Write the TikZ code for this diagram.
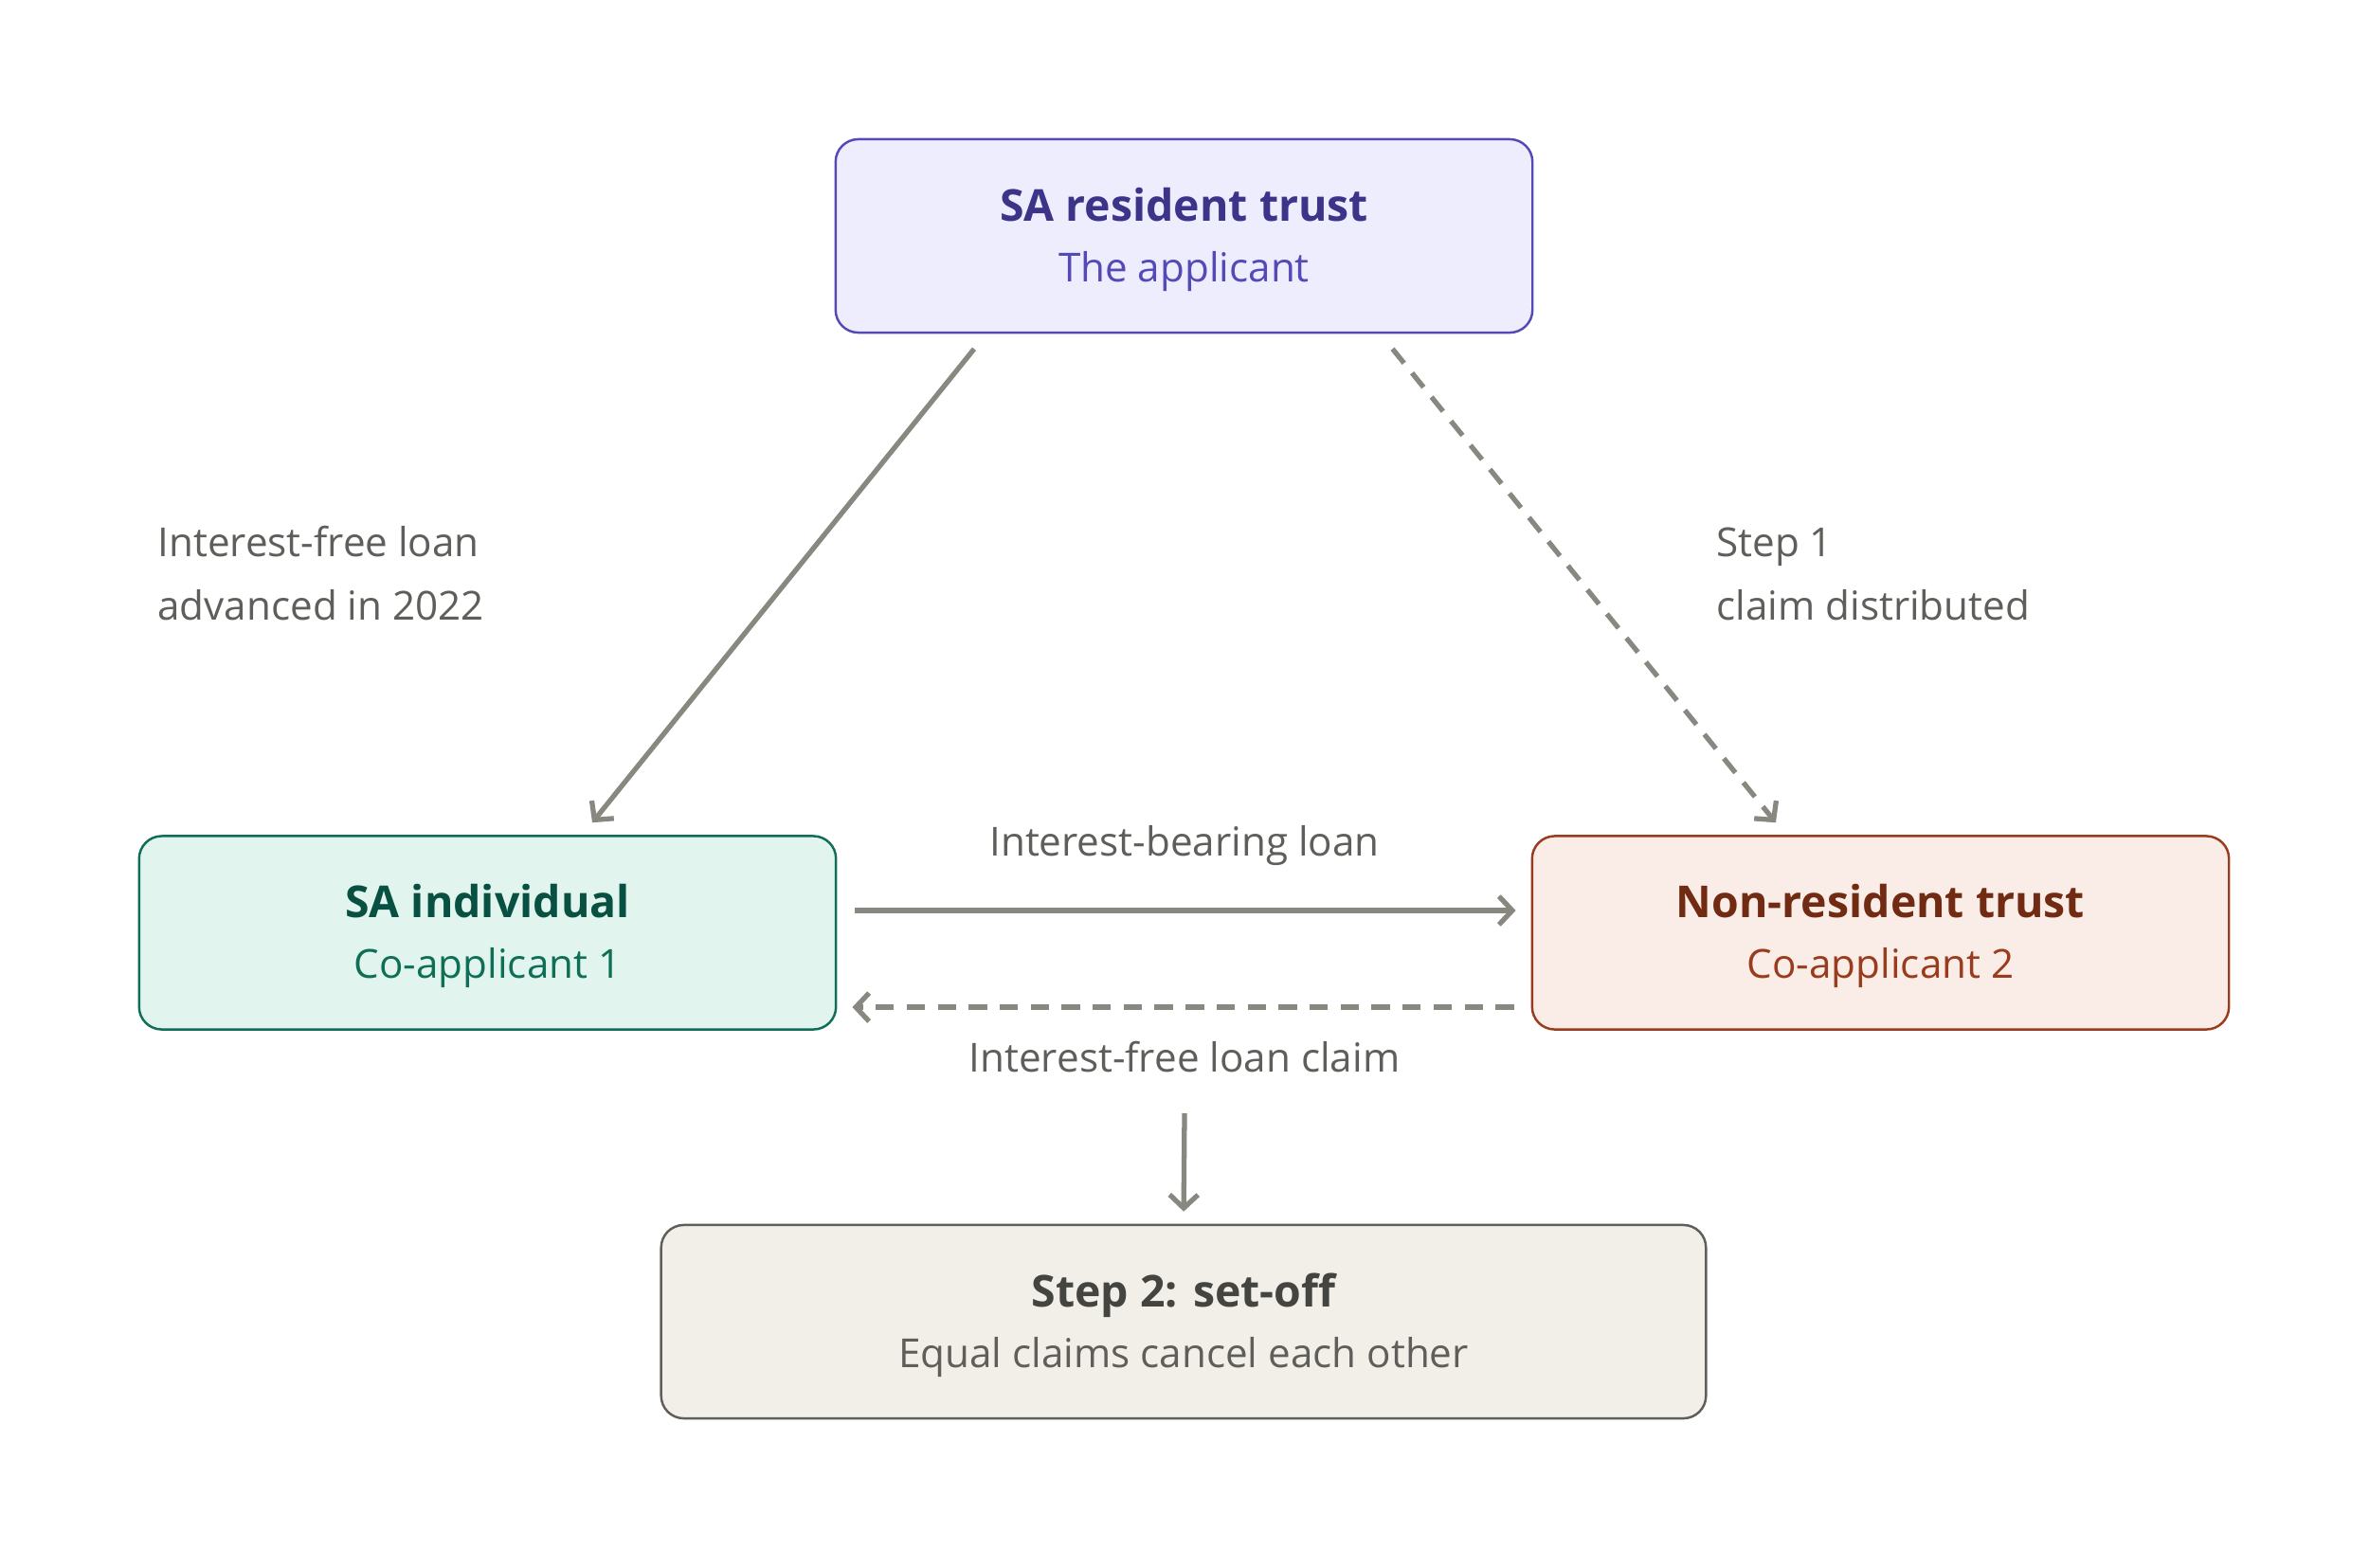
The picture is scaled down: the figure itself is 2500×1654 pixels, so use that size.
\documentclass[tikz,border=0pt]{standalone}
\usepackage{fontspec}
\setmainfont{Open Sans}
\usetikzlibrary{arrows.meta}
\definecolor{pfill}{HTML}{EEEDFE}\definecolor{pline}{HTML}{534AB7}\definecolor{ptitle}{HTML}{3C3489}
\definecolor{gfill}{HTML}{E1F5EE}\definecolor{gline}{HTML}{0F6E56}\definecolor{gtitle}{HTML}{085041}
\definecolor{rfill}{HTML}{FAECE7}\definecolor{rline}{HTML}{993C1D}\definecolor{rtitle}{HTML}{712B13}
\definecolor{nfill}{HTML}{F1EFE8}\definecolor{nline}{HTML}{5F5E5A}\definecolor{ntitle}{HTML}{444441}
\definecolor{arrowc}{HTML}{888780}\definecolor{labelc}{HTML}{5F5E5A}
\begin{document}
\begin{tikzpicture}[x=0.01cm,y=-0.01cm,
  box/.style={draw, line width=0.7pt, rounded corners=6.8pt, inner sep=0pt},
  wide/.style={minimum width=7.35cm, minimum height=2.04cm},
  widest/.style={minimum width=11.02cm, minimum height=2.04cm},
  ttl/.style={anchor=mid, font=\fontsize{13.2}{16}\selectfont\bfseries},
  sub/.style={anchor=mid, font=\fontsize{12}{14}\selectfont},
  lbl/.style={font=\fontsize{12}{14}\selectfont, text=labelc},
  conn/.style={draw=arrowc, line width=1.5pt, -{Straight Barb[length=4pt,width=8.5pt,line width=1.5pt]}},
  dashconn/.style={conn, dash pattern=on 5.5pt off 3.8pt}
]
\useasboundingbox (0,0) rectangle (2500,1654);
\fill[white] (0,0) rectangle (2500,1654);

% boxes
\node[box, wide, draw=pline, fill=pfill] (top) at (1249.5,249) {};
\node[box, wide, draw=gline, fill=gfill] (left) at (514.5,984.5) {};
\node[box, wide, draw=rline, fill=rfill] (right) at (1984.5,984.5) {};
\node[box, widest, draw=nline, fill=nfill] (bottom) at (1249,1395) {};

% box texts
\node[ttl, text=ptitle] (topT) at (1249.5,224) {SA resident trust};
\node[sub, text=pline] (topS) at (1249.5,288) {The applicant};
\node[ttl, text=gtitle] (leftT) at (514.5,959) {SA individual};
\node[sub, text=gline] (leftS) at (514.5,1023) {Co-applicant 1};
\node[ttl, text=rtitle] (rightT) at (1984.5,959) {Non-resident trust};
\node[sub, text=rline] (rightS) at (1984.5,1023) {Co-applicant 2};
\node[ttl, text=ntitle] (botT) at (1249,1370) {Step 2: set-off};
\node[sub, text=nline] (botS) at (1249,1434) {Equal claims cancel each other};

% labels
\node[lbl, anchor=mid west] (l1a) at (154,578) {Interest-free loan};
\node[lbl, anchor=mid west] (l1b) at (154,645) {advanced in 2022};
\node[lbl, anchor=mid west] (l2a) at (1799,578) {Step 1};
\node[lbl, anchor=mid west] (l2b) at (1799,645) {claim distributed};
\node[lbl, anchor=mid] (l3) at (1250,894) {Interest-bearing loan};
\node[lbl, anchor=mid] (l4) at (1250,1122) {Interest-free loan claim};

% connectors
\draw[conn, shorten <=0.205cm, shorten >=0.167cm] ([xshift=-2.085cm]top.south) -- ([xshift=1.0cm]left.north);
\draw[dashconn, shorten <=0.205cm, shorten >=0.167cm] ([xshift=2.07cm]top.south) -- ([xshift=-1.0cm]right.north);
\draw[conn, shorten <=0.19cm, shorten >=0.16cm] ([yshift=0.235cm]left.east) -- ([yshift=0.235cm]right.west);
\draw[dashconn, shorten <=0.18cm, shorten >=0.16cm] ([yshift=-0.785cm]right.west) -- ([yshift=-0.785cm]left.east);
\coordinate (setoff) at (1250,1175);
\draw[conn, shorten >=0.13cm] (setoff) -- (bottom.north);
\end{tikzpicture}
\end{document}
